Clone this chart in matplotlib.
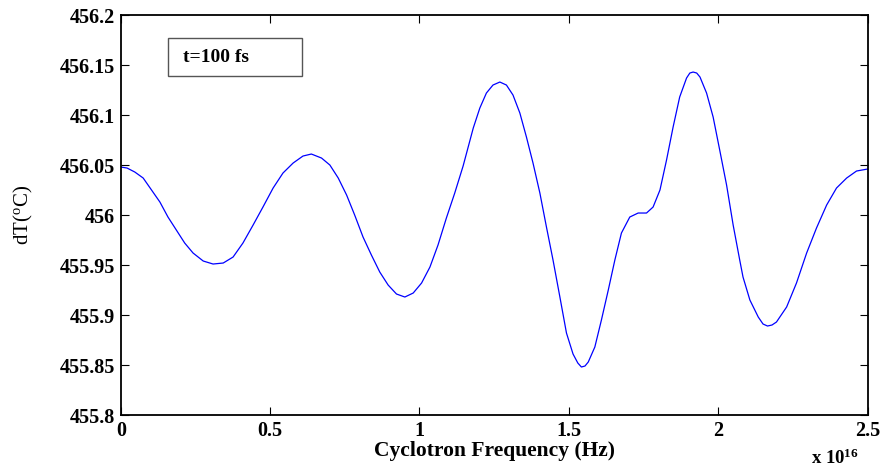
import matplotlib
matplotlib.use('Agg')
import matplotlib.pyplot as plt
import matplotlib.ticker as mticker
from matplotlib.patches import Rectangle

# Cyclotron frequency in units of 1e16 Hz, dT in degrees C
freq = [0.000, 0.021, 0.047, 0.075, 0.103, 0.131, 0.158, 0.186, 0.214, 0.242,
        0.276, 0.309, 0.343, 0.376, 0.409, 0.443, 0.476, 0.510, 0.543, 0.577,
        0.610, 0.638, 0.672, 0.700, 0.728, 0.756, 0.783, 0.811, 0.839, 0.867,
        0.895, 0.923, 0.951, 0.979, 1.007, 1.035, 1.062, 1.090, 1.118, 1.146,
        1.180, 1.202, 1.224, 1.246, 1.269, 1.291, 1.313, 1.336, 1.358, 1.380,
        1.403, 1.425, 1.447, 1.470, 1.492, 1.514, 1.530, 1.542, 1.554, 1.565, 1.587, 1.609,
        1.632, 1.654, 1.676, 1.704, 1.732, 1.760, 1.782, 1.805, 1.827, 1.849,
        1.871, 1.894, 1.905, 1.916, 1.928, 1.939, 1.961, 1.983, 2.005, 2.028, 2.050, 2.072,
        2.083, 2.106, 2.134, 2.150, 2.165, 2.180, 2.195, 2.229, 2.262, 2.296, 2.329, 2.363,
        2.396, 2.430, 2.463, 2.500]
dT = [456.048, 456.047, 456.043, 456.037, 456.025, 456.013, 455.998, 455.985, 455.972, 455.962,
      455.954, 455.951, 455.952, 455.958, 455.972, 455.990, 456.008, 456.027, 456.042, 456.052,
      456.059, 456.061, 456.057, 456.050, 456.037, 456.020, 456.000, 455.978, 455.960, 455.943,
      455.930, 455.921, 455.918, 455.922, 455.932, 455.948, 455.970, 455.997, 456.022, 456.049,
      456.087, 456.107, 456.122, 456.130, 456.133, 456.130, 456.120, 456.102, 456.078, 456.052,
      456.022, 455.988, 455.955, 455.918, 455.882, 455.861, 455.852, 455.848, 455.849, 455.853, 455.868, 455.895,
      455.925, 455.955, 455.982, 455.998, 456.002, 456.002, 456.008, 456.025, 456.055, 456.088,
      456.118, 456.137, 456.142, 456.143, 456.142, 456.138, 456.122, 456.098, 456.065, 456.030, 455.990, 455.955,
      455.938, 455.915, 455.898, 455.891, 455.889, 455.890, 455.893, 455.908, 455.932, 455.962, 455.987, 456.010,
      456.027, 456.037, 456.044, 456.046]

xticks = [0, 0.5, 1, 1.5, 2, 2.5]
xtick_labels = ['0', '0.5', '1', '1.5', '2', '2.5']
yticks = [455.8, 455.85, 455.9, 455.95, 456, 456.05, 456.1, 456.15, 456.2]
ytick_labels = ['455.8', '455.85', '455.9', '455.95', '456', '456.05', '456.1', '456.15', '456.2']

plt.rcParams['font.family'] = ['Liberation Serif', 'DejaVu Serif']
plt.rcParams['mathtext.default'] = 'regular'

fig = plt.figure(figsize=(8.88, 4.70), dpi=100)
ax = fig.add_axes([0.136, 0.117, 0.841, 0.851])

ax.plot(freq, dT, color='#0000ff', linewidth=0.9)

ax.set_xlim(0, 2.5)
ax.set_ylim(455.8, 456.2)
ax.xaxis.set_major_locator(mticker.FixedLocator(xticks))
ax.set_xticklabels(xtick_labels, fontsize=14.5, fontweight='bold')
ax.yaxis.set_major_locator(mticker.FixedLocator(yticks))
ax.set_yticklabels(ytick_labels, fontsize=14.5, fontweight='bold')
ax.tick_params(direction='in', length=6, width=0.8, top=True, right=True, pad=4)
for sp in ax.spines.values():
    sp.set_linewidth(1.3)

ax.set_xlabel('Cyclotron Frequency (Hz)', fontsize=15.5, fontweight='bold', labelpad=0)
ax.set_ylabel('dT($^{o}$C)', fontsize=15, labelpad=18)
fig.text(0.940, 0.004, r'x 10$^{16}$', fontsize=13.5, fontweight='bold',
         ha='center', va='bottom')

# annotation box
ax.add_patch(Rectangle((0.063, 0.8475), 0.18, 0.095, transform=ax.transAxes,
                       facecolor='white', edgecolor='#555555', linewidth=1.0))
ax.text(0.083, 0.895, 't=100 fs', transform=ax.transAxes, fontsize=14,
        fontweight='bold', ha='left', va='center')

fig.savefig('out.png', dpi=100)
plt.close(fig)
